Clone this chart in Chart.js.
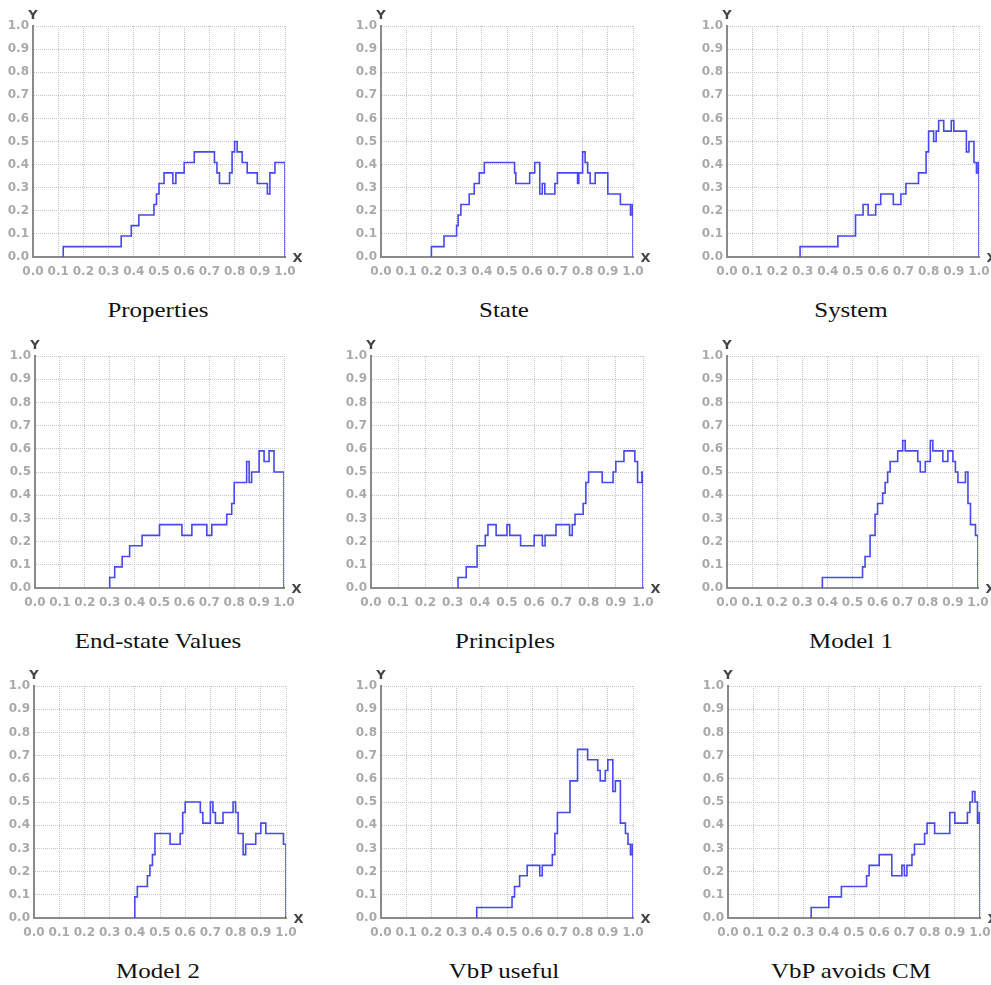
<!DOCTYPE html>
<html><head><meta charset="utf-8">
<script src="https://cdn.jsdelivr.net/npm/chart.js@4.4.1/dist/chart.umd.min.js"></script>
<style>
html,body{margin:0;padding:0;background:#fff;}
body{width:991px;height:985px;position:relative;overflow:hidden;}
canvas{position:absolute;}
.title{position:absolute;font-family:'Liberation Serif','Times New Roman',serif;font-size:21.5px;color:#111;text-align:center;width:300px;line-height:26px;white-space:nowrap;transform:scaleX(1.16);transform-origin:50% 50%;}
.axl{position:absolute;font-family:'DejaVu Sans',sans-serif;font-weight:bold;font-size:13px;color:#444;line-height:14px;width:16px;text-align:center;}
</style></head><body>
<script>
// Tick values and labels shared by both axes
const tickValues = [0, 0.1, 0.2, 0.3, 0.4, 0.5, 0.6, 0.7, 0.8, 0.9, 1.0];
const tickLabels = ['0.0','0.1','0.2','0.3','0.4','0.5','0.6','0.7','0.8','0.9','1.0'];

// Step curves: x where the value changes, y = new value from that x on
const propertiesX = [0.12, 0.12, 0.35, 0.39, 0.42, 0.48, 0.49, 0.50, 0.52, 0.555, 0.567, 0.60, 0.64, 0.72, 0.73, 0.74, 0.78, 0.79, 0.80, 0.81, 0.83, 0.85, 0.89, 0.93, 0.94, 0.96, 1.0];
const propertiesY = [0, 0.045, 0.091, 0.136, 0.182, 0.227, 0.273, 0.318, 0.364, 0.318, 0.364, 0.409, 0.455, 0.409, 0.364, 0.318, 0.364, 0.455, 0.5, 0.455, 0.409, 0.364, 0.318, 0.273, 0.364, 0.409, 0];

const stateX = [0.20, 0.20, 0.25, 0.30, 0.306, 0.317, 0.35, 0.37, 0.39, 0.41, 0.53, 0.535, 0.59, 0.61, 0.63, 0.64, 0.65, 0.69, 0.70, 0.78, 0.785, 0.80, 0.81, 0.82, 0.83, 0.85, 0.90, 0.95, 0.99, 0.997, 1.0];
const stateY = [0, 0.045, 0.091, 0.136, 0.182, 0.227, 0.273, 0.318, 0.364, 0.409, 0.364, 0.318, 0.364, 0.409, 0.273, 0.318, 0.273, 0.318, 0.364, 0.318, 0.364, 0.455, 0.409, 0.364, 0.318, 0.364, 0.273, 0.227, 0.182, 0.227, 0];

const systemX = [0.29, 0.29, 0.44, 0.51, 0.54, 0.56, 0.59, 0.61, 0.66, 0.69, 0.71, 0.76, 0.79, 0.80, 0.82, 0.83, 0.84, 0.86, 0.89, 0.90, 0.95, 0.96, 0.98, 0.99, 0.997, 1.0];
const systemY = [0, 0.045, 0.091, 0.182, 0.227, 0.182, 0.227, 0.273, 0.227, 0.273, 0.318, 0.364, 0.455, 0.545, 0.5, 0.545, 0.591, 0.545, 0.591, 0.545, 0.455, 0.5, 0.409, 0.364, 0.409, 0];

const endStateX = [0.30, 0.30, 0.32, 0.35, 0.38, 0.43, 0.50, 0.59, 0.63, 0.69, 0.71, 0.77, 0.79, 0.80, 0.85, 0.86, 0.87, 0.90, 0.92, 0.94, 0.96, 1.0];
const endStateY = [0, 0.045, 0.091, 0.136, 0.182, 0.227, 0.273, 0.227, 0.273, 0.227, 0.273, 0.318, 0.364, 0.455, 0.545, 0.455, 0.5, 0.591, 0.545, 0.591, 0.5, 0];

const principlesX = [0.32, 0.32, 0.35, 0.39, 0.42, 0.43, 0.46, 0.50, 0.51, 0.55, 0.60, 0.63, 0.64, 0.68, 0.73, 0.74, 0.75, 0.78, 0.79, 0.80, 0.85, 0.89, 0.90, 0.93, 0.97, 0.98, 0.996, 1.0];
const principlesY = [0, 0.045, 0.091, 0.182, 0.227, 0.273, 0.227, 0.273, 0.227, 0.182, 0.227, 0.182, 0.227, 0.273, 0.227, 0.273, 0.318, 0.364, 0.455, 0.5, 0.455, 0.5, 0.545, 0.591, 0.545, 0.455, 0.5, 0];

const model1X = [0.38, 0.38, 0.54, 0.55, 0.57, 0.59, 0.60, 0.62, 0.63, 0.64, 0.65, 0.68, 0.70, 0.71, 0.76, 0.77, 0.79, 0.81, 0.82, 0.86, 0.88, 0.90, 0.91, 0.92, 0.95, 0.96, 0.97, 0.99, 1.0];
const model1Y = [0, 0.045, 0.091, 0.136, 0.227, 0.318, 0.364, 0.409, 0.455, 0.5, 0.545, 0.591, 0.636, 0.591, 0.545, 0.5, 0.545, 0.636, 0.591, 0.545, 0.591, 0.545, 0.5, 0.455, 0.5, 0.364, 0.273, 0.227, 0];

const model2X = [0.40, 0.40, 0.41, 0.45, 0.46, 0.47, 0.48, 0.54, 0.58, 0.59, 0.60, 0.66, 0.67, 0.70, 0.71, 0.72, 0.75, 0.79, 0.80, 0.81, 0.83, 0.84, 0.88, 0.90, 0.92, 0.99, 1.0];
const model2Y = [0, 0.091, 0.136, 0.182, 0.227, 0.273, 0.364, 0.318, 0.364, 0.455, 0.5, 0.455, 0.409, 0.5, 0.455, 0.409, 0.455, 0.5, 0.455, 0.364, 0.273, 0.318, 0.364, 0.409, 0.364, 0.318, 0];

const usefulX = [0.38, 0.38, 0.52, 0.53, 0.55, 0.58, 0.63, 0.64, 0.68, 0.69, 0.70, 0.75, 0.78, 0.82, 0.86, 0.87, 0.89, 0.90, 0.92, 0.93, 0.95, 0.97, 0.98, 0.99, 0.997, 1.0];
const usefulY = [0, 0.045, 0.091, 0.136, 0.182, 0.227, 0.182, 0.227, 0.273, 0.364, 0.455, 0.591, 0.727, 0.682, 0.636, 0.591, 0.636, 0.682, 0.545, 0.591, 0.409, 0.364, 0.318, 0.273, 0.318, 0];

const avoidsX = [0.33, 0.33, 0.40, 0.45, 0.55, 0.56, 0.60, 0.65, 0.69, 0.70, 0.71, 0.73, 0.74, 0.78, 0.79, 0.82, 0.88, 0.90, 0.95, 0.96, 0.97, 0.98, 0.99, 0.997, 1.0];
const avoidsY = [0, 0.045, 0.091, 0.136, 0.182, 0.227, 0.273, 0.182, 0.227, 0.182, 0.227, 0.273, 0.318, 0.364, 0.409, 0.364, 0.455, 0.409, 0.455, 0.5, 0.545, 0.5, 0.409, 0.455, 0];

const titles = ['Properties', 'State', 'System', 'End-state Values', 'Principles', 'Model 1', 'Model 2', 'VbP useful', 'VbP avoids CM'];
const seriesX = [propertiesX, stateX, systemX, endStateX, principlesX, model1X, model2X, usefulX, avoidsX];
const seriesY = [propertiesY, stateY, systemY, endStateY, principlesY, model1Y, model2Y, usefulY, avoidsY];

// Layout: plot area [left, top, right, bottom] and title centre
const boxes = [
  [33, 26, 285, 257], [381, 26, 633, 257], [727, 26, 979, 257],
  [35, 356, 284, 588], [371, 356, 643, 588], [727, 356, 978, 588],
  [34, 686, 286, 918], [381, 686, 633, 918], [728, 686, 980, 918]
];
const titlePos = [[158, 311], [504, 311], [851, 311], [158, 642], [505, 642], [851, 642], [158, 972], [504, 972], [851, 972]];

const PADL = 40, PADT = 25, PADR = 25, PADB = 26;
const tickFont = {family: "'DejaVu Sans', sans-serif", size: 12, weight: 'bold'};
const tickColor = '#a9a9a9';
const gridColor = '#c4c4c4';

function axisOpts(isY) {
  return {
    type: 'linear', min: 0, max: 1,
    afterBuildTicks: s => { s.ticks = tickValues.map(v => ({value: v})); },
    afterFit: s => { if (isY) s.width = PADL; else s.height = PADB; },
    ticks: {
      callback: (v, i) => tickLabels[i],
      font: tickFont, color: tickColor, padding: isY ? 4 : 8,
      autoSkip: false, maxRotation: 0
    },
    grid: {
      color: c => (c.tick && c.tick.value === 0) ? 'rgba(0,0,0,0)' : gridColor,
      lineWidth: 1, drawTicks: false
    },
    border: {display: true, color: '#8a8a8a', width: 2, dash: [1, 1]}
  };
}

titles.forEach((t, k) => {
  const [L, T, R, B] = boxes[k];
  const W = (R - L) + PADL + PADR, H = (B - T) + PADT + PADB;
  const cv = document.createElement('canvas');
  cv.width = W; cv.height = H;
  cv.style.width = W + 'px'; cv.style.height = H + 'px';
  cv.style.left = (L - PADL) + 'px'; cv.style.top = (T - PADT) + 'px';
  document.body.appendChild(cv);
  const xs = seriesX[k], ys = seriesY[k];
  new Chart(cv, {
    type: 'line',
    data: {datasets: [{
      data: xs.map((x, i) => ({x: x, y: ys[i]})),
      stepped: 'before',
      borderColor: 'rgb(72,72,236)', borderWidth: 1.6,
      pointRadius: 0, fill: false, tension: 0
    }]},
    options: {
      responsive: false, animation: false, devicePixelRatio: 1,
      layout: {padding: {top: PADT, right: PADR, left: 0, bottom: 0}},
      plugins: {legend: {display: false}, tooltip: {enabled: false}, title: {display: false}},
      scales: {x: axisOpts(false), y: axisOpts(true)}
    }
  });
  const yl = document.createElement('div');
  yl.className = 'axl'; yl.textContent = 'Y';
  yl.style.left = (L - 8) + 'px'; yl.style.top = (T - 11 - 7) + 'px';
  document.body.appendChild(yl);
  const xl = document.createElement('div');
  xl.className = 'axl'; xl.textContent = 'X';
  xl.style.left = (R + 12.5 - 8) + 'px'; xl.style.top = (B + 1 - 7) + 'px';
  document.body.appendChild(xl);
  const ti = document.createElement('div');
  ti.className = 'title'; ti.textContent = t;
  ti.style.left = (titlePos[k][0] - 150) + 'px'; ti.style.top = (titlePos[k][1] - 14) + 'px';
  document.body.appendChild(ti);
});
</script>
</body></html>
